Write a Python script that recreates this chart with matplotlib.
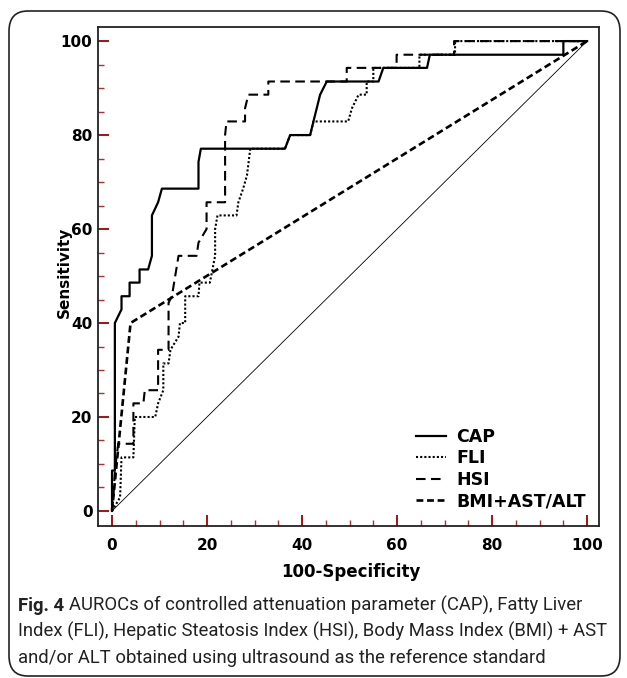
import matplotlib
matplotlib.use('Agg')
import matplotlib.pyplot as plt
from matplotlib.patches import FancyBboxPatch

# ---------------- data ----------------
cap_x = [0, 0, 0.6, 0.6, 2.0, 2.0, 3.7, 3.7, 5.8, 5.8, 7.6, 8.4, 8.4, 9.7, 10.5, 18.2, 18.2, 18.7,
         36.4, 37.5, 41.7, 42.4, 43.8, 45.2, 56.1, 57.1, 66.3, 66.9, 95.0, 95.0, 100]
cap_y = [0, 8.6, 8.6, 40.0, 42.9, 45.7, 45.7, 48.6, 48.6, 51.4, 51.4, 54.3, 62.9, 65.7, 68.6, 68.6, 74.3, 77.1,
         77.1, 80.0, 80.0, 82.9, 88.6, 91.4, 91.4, 94.3, 94.3, 97.1, 97.1, 100, 100]

fli_x = [0, 1.7, 2.0, 4.5, 4.8, 9.1, 9.7, 10.8, 10.8, 11.9, 12.3, 14.0, 14.3, 15.4, 15.4, 18.2, 18.4, 20.6,
         21.7, 21.7, 22.2, 26.2, 26.6, 27.6, 28.4, 29.1, 36.4, 37.5, 41.7, 42.4, 49.7, 50.5, 51.9, 53.6,
         53.6, 55.0, 55.0, 64.7, 64.7, 72.2, 72.2, 100]
fli_y = [0, 2.9, 11.4, 11.4, 20.0, 20.0, 22.9, 25.7, 31.4, 31.4, 34.3, 37.1, 40.0, 40.0, 45.7, 45.7, 48.6, 48.6,
         54.3, 60.0, 62.9, 62.9, 65.7, 68.6, 71.4, 77.1, 77.1, 80.0, 80.0, 82.9, 82.9, 85.7, 88.6, 88.6,
         91.4, 91.4, 94.3, 94.3, 97.1, 97.1, 100, 100]

hsi_x = [0, 0.3, 0.6, 1.3, 4.5, 4.5, 6.6, 6.9, 9.7, 9.7, 11.9, 11.9, 12.6, 14.0, 17.8, 18.2, 19.9, 19.9,
         23.8, 23.8, 24.1, 28.0, 28.0, 28.7, 32.9, 32.9, 49.4, 49.4, 59.9, 59.9, 72.0, 72.0, 100]
hsi_y = [0, 2.9, 8.6, 14.3, 14.3, 22.9, 22.9, 25.7, 25.7, 34.3, 34.3, 44.3, 45.7, 54.3, 54.3, 57.1, 60.0, 65.7,
         65.7, 80.0, 82.9, 82.9, 85.7, 88.6, 88.6, 91.4, 91.4, 94.3, 94.3, 97.1, 97.1, 100, 100]

bmi_x = [0, 3.9, 100]
bmi_y = [0, 40.0, 100]

diag_x = [0, 100]
diag_y = [0, 100]

series_labels = ['CAP', 'FLI', 'HSI', 'BMI+AST/ALT']
tick_vals = [0, 20, 40, 60, 80, 100]
tick_labels = ['0', '20', '40', '60', '80', '100']
x_label = '100-Specificity'
y_label = 'Sensitivity'
caption_bold = 'Fig. 4'
caption_lines = [
    'AUROCs of controlled attenuation parameter (CAP), Fatty Liver',
    'Index (FLI), Hepatic Steatosis Index (HSI), Body Mass Index (BMI) + AST',
    'and/or ALT obtained using ultrasound as the reference standard',
]

# ---------------- figure ----------------
W, H, DPI = 627, 678, 100
fig = plt.figure(figsize=(W / DPI, H / DPI), dpi=DPI)
fig.patch.set_facecolor('white')


def fx(px):
    return px / W


def fy(py):
    return 1 - py / H


# rounded outer frame
box = FancyBboxPatch((fx(9), fy(676)), fx(620) - fx(9), fy(11) - fy(676),
                     boxstyle='round,pad=0,rounding_size=0.03',
                     transform=fig.transFigure, fill=False, ec='#222222', lw=1.2)
fig.patches.append(box)

ax = fig.add_axes([fx(98), fy(526), (599 - 98) / W, (526 - 27) / H])
ax.set_xlim(-2.95, 102.5)
ax.set_ylim(-3.2, 103)

ax.plot(diag_x, diag_y, color='black', lw=0.6)
l_bmi, = ax.plot(bmi_x, bmi_y, color='black', lw=1.9, dashes=(2.6, 1.4))
l_hsi, = ax.plot(hsi_x, hsi_y, color='black', lw=1.5, dashes=(4.6, 2.6))
l_fli, = ax.plot(fli_x, fli_y, color='black', lw=1.5, dashes=(1.0, 1.0))
l_cap, = ax.plot(cap_x, cap_y, color='black', lw=1.6)

for s in ax.spines.values():
    s.set_linewidth(1.3)
    s.set_color('#222222')

ax.set_xticks(tick_vals, labels=tick_labels, fontweight='bold', fontsize=11)
ax.set_yticks(tick_vals, labels=tick_labels, fontweight='bold', fontsize=11)
ax.set_xticks(range(0, 101, 5), minor=True)
ax.set_yticks(range(0, 101, 5), minor=True)
ax.tick_params(which='major', direction='in', length=8, width=1.3, color='#9b0000')
ax.tick_params(which='minor', direction='in', length=4.5, width=1.0, color='#b03030')
ax.tick_params(axis='x', which='major', pad=9)
ax.tick_params(axis='y', which='major', pad=4)

ax.set_xlabel(x_label, fontweight='bold', fontsize=12, va='center')
ax.xaxis.set_label_coords((351 - 98) / 501, (526 - 572) / 499)
ax.set_ylabel(y_label, fontweight='bold', fontsize=11, va='center')
ax.yaxis.set_label_coords((64 - 98) / 501, (526 - 272) / 499)

leg = ax.legend([l_cap, l_fli, l_hsi, l_bmi], series_labels, loc='upper left',
                bbox_to_anchor=((416 - 98) / 501, (526 - 428) / 499),
                frameon=False, borderaxespad=0, borderpad=0, handlelength=1.75,
                handletextpad=0.55, labelspacing=0.2,
                prop={'weight': 'bold', 'size': 12.5})

# ---------------- caption ----------------
cap_family = ['Roboto', 'DejaVu Sans']
fig.canvas.draw()
r = fig.canvas.get_renderer()


def width_of(txt, size, weight):
    t = fig.text(0, 0, txt, fontsize=size, fontweight=weight, family=cap_family)
    w = t.get_window_extent(r).width
    t.remove()
    return w


s0 = 14.0
wb = width_of(caption_bold, s0, 'bold')
wsp = width_of('a a', s0, 'normal') - width_of('aa', s0, 'normal')
w1 = wb + wsp + width_of(caption_lines[0], s0, 'normal')
w2 = width_of(caption_lines[1], s0, 'normal')
size = min(s0 * (612 - 18) / w1, s0 * (610 - 18) / w2)

wb = width_of(caption_bold, size, 'bold')
wsp = width_of('a a', size, 'normal') - width_of('aa', size, 'normal')
baselines = [611, 637, 663]
fig.text(fx(18), fy(baselines[0]), caption_bold, fontsize=size, fontweight='bold',
         family=cap_family, va='baseline', color='#222222')
fig.text(fx(18 + wb + wsp), fy(baselines[0]), caption_lines[0], fontsize=size,
         family=cap_family, va='baseline', color='#222222')
for ln, b in zip(caption_lines[1:], baselines[1:]):
    fig.text(fx(18), fy(b), ln, fontsize=size, family=cap_family, va='baseline', color='#222222')

fig.savefig('out.png', dpi=DPI)
